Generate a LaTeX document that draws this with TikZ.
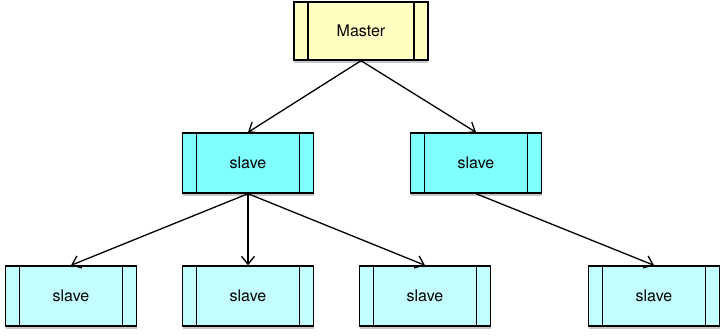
\documentclass[tikz,border=0pt]{standalone}
\usepackage{fontspec}
\setmainfont{TeX Gyre Heros}
\usetikzlibrary{shadows,arrows.meta}
\definecolor{masteryellow}{HTML}{FFFFC2}
\definecolor{slavecyan}{HTML}{80FFFF}
\definecolor{leafcyan}{HTML}{C4FFFF}
\tikzset{
  procbox/.style={draw, line width=1.4pt, minimum width=131pt, minimum height=60pt,
    font=\fontsize{16}{18}\selectfont,
    drop shadow={shadow xshift=0pt, shadow yshift=-3pt, opacity=0.45},
    path picture={
      \draw[line width=1.4pt] ([xshift=14pt]path picture bounding box.north west) -- ([xshift=14pt]path picture bounding box.south west);
      \draw[line width=1.4pt] ([xshift=-14pt]path picture bounding box.north east) -- ([xshift=-14pt]path picture bounding box.south east);
    }},
  link/.style={line width=1.3pt, -{Straight Barb[length=8pt,width=13pt]}}
}
\begin{document}
\begin{tikzpicture}[x=1pt,y=1pt]
\useasboundingbox (0,0) rectangle (725,335);
% top
\node[procbox, fill=masteryellow, minimum width=134pt, minimum height=58pt] (master) at (361,304) {Master};
% middle row
\node[procbox, fill=slavecyan] (midL) at (248,172) {slave};
\node[procbox, fill=slavecyan] (midR) at (476,172) {slave};
% bottom row
\node[procbox, fill=leafcyan] (leafA) at (71,39) {slave};
\node[procbox, fill=leafcyan] (leafB) at (248,39) {slave};
\node[procbox, fill=leafcyan] (leafC) at (425,39) {slave};
\node[procbox, fill=leafcyan] (leafD) at (654,39) {slave};
\draw[link] (master.south) -- (midL.north);
\draw[link] (master.south) -- (midR.north);
\draw[link] (midL.south) -- (leafA.north);
\draw[link] (midL.south) -- (leafB.north);
\draw[link] (midL.south) -- (leafC.north);
\draw[link] (midR.south) -- (leafD.north);
\end{tikzpicture}
\end{document}
